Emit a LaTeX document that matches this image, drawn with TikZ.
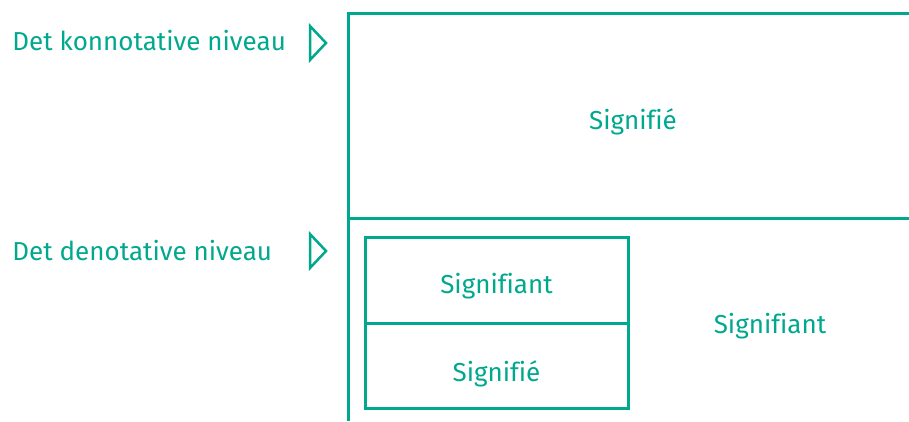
\documentclass[tikz,border=0pt]{standalone}
\usepackage{fontspec}
\setmainfont[Ligatures=NoCommon]{Fira Sans}
\usepackage{tikz}
\usetikzlibrary{positioning,calc}
\definecolor{levgreen}{RGB}{0,168,142}

\begin{document}
\begin{tikzpicture}[x=1pt, y=-1pt, line width=3pt,
    every node/.style={text=levgreen, inner sep=0pt, font=\fontsize{26}{30}\selectfont},
    field/.style={draw=levgreen, outer sep=0pt, minimum width=263pt},
    pointer/.style={draw=levgreen, line width=2.5pt, line join=miter}]
  \useasboundingbox (0,0) rectangle (909,421);
  % outer frame, open on the right
  \draw[levgreen] (909,13) -- (348,13) -- (348,421);
  \draw[levgreen] (348,218) -- (909,218);
  \node[anchor=base] (konsie) at (633,129) {Signifié};
  \node[anchor=base] (konsia) at (770,333) {Signifiant};
  % inner sign
  \node[field, minimum height=86pt, anchor=north west] (densia) at (365,237) {};
  \node[field, minimum height=85pt, anchor=north] (densie) at (densia.south) {};
  \node[anchor=base] at ($(densia.north)+(0,56)$) {Signifiant};
  \node[anchor=base] at ($(densie.north)+(0,58)$) {Signifié};
  % levels
  \node[anchor=base west] (konn) at (11,50) {Det konnotative niveau};
  \node[anchor=base west] (deno) at (11,260) {Det denotative niveau};
  \draw[pointer] (310,26) -- (326,43) -- (310,60) -- cycle;
  \draw[pointer] (310,234) -- (326,251) -- (310,268) -- cycle;
\end{tikzpicture}
\end{document}
